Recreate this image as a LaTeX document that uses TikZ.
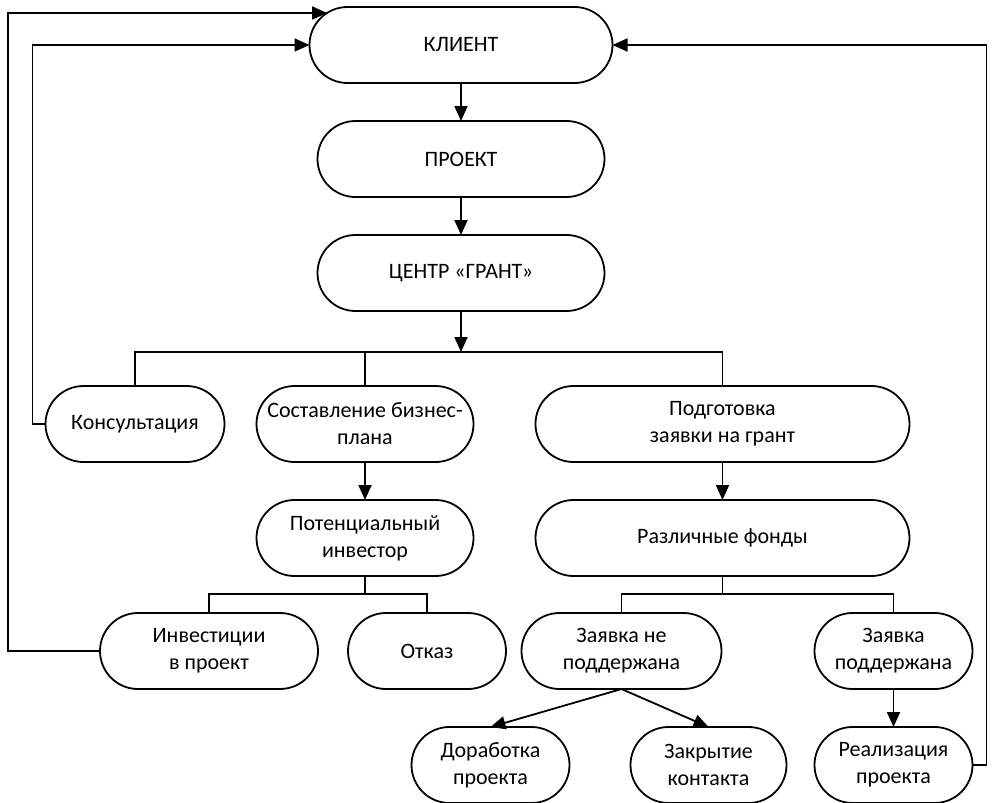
\documentclass[tikz,border=0pt]{standalone}
\usepackage{fontspec}
\setmainfont{Carlito}
\usetikzlibrary{positioning,arrows.meta}

\begin{document}
\begin{tikzpicture}[
        node distance=19pt,
        block/.style={rectangle,rounded corners=19pt,draw=black,line width=0.9pt,minimum height=38pt,inner sep=2pt,outer sep=0pt,align=center,font=\fontsize{11}{13.5}\selectfont},
        arrow/.style={-{Triangle[length=7.5pt,width=6.5pt]},line width=0.9pt},
        link/.style={line width=0.9pt},
      ]
      \useasboundingbox (0,0) rectangle (496pt,-401.5pt);
      \node[block,minimum width=151.5pt] (klient) at (230.5pt,-22.5pt) {КЛИЕНТ};
      \node[block,minimum width=143.5pt,below=of klient] (proekt) {ПРОЕКТ};
      \node[block,minimum width=143.5pt,below=of proekt] (centr) {ЦЕНТР «ГРАНТ»};
      \node[block,minimum width=108.5pt,below=37.5pt of centr,xshift=-48pt] (sostav) {Составление бизнес-\\плана};
      \node[block,minimum width=89.5pt,left=16pt of sostav] (konsult) {Консультация};
      \node[block,minimum width=187pt,right=31pt of sostav] (podgot) {Подготовка\\заявки на грант};
      \node[block,minimum width=108.5pt,below=of sostav] (potenc) {Потенциальный\\инвестор};
      \node[block,minimum width=187pt,below=of podgot] (razl) {Различные фонды};
      \node[block,minimum width=109pt,below=18.5pt of potenc,xshift=-78pt] (invest) {Инвестиции\\в проект};
      \node[block,minimum width=79pt,right=15pt of invest] (otkaz) {Отказ};
      \node[block,minimum width=100pt,below=18.5pt of razl,xshift=-50.5pt] (zayne) {Заявка не\\поддержана};
      \node[block,minimum width=79pt,right=46.5pt of zayne] (zaypod) {Заявка\\поддержана};
      \node[block,minimum width=79pt,below=of zayne,xshift=-65.5pt] (dorab) {Доработка\\проекта};
      \node[block,minimum width=78pt,right=30.5pt of dorab] (zakr) {Закрытие\\контакта};
      \node[block,minimum width=79pt,below=of zaypod] (realiz) {Реализация\\проекта};

      \draw[arrow] (klient) -- (proekt);
      \draw[arrow] (proekt) -- (centr);
      \draw[arrow] (centr.south) -- ++(0,-20.5pt) coordinate (br1);
      \draw[link] (konsult.north) |- (br1) -| (podgot.north);
      \draw[link] (sostav.north) -- (sostav.north |- br1);
      \draw[arrow] (sostav) -- (potenc);
      \draw[link] (potenc.south) -- ++(0,-9pt) coordinate (br2);
      \draw[link] (invest.north) |- (br2) -| (otkaz.north);
      \draw[arrow] (podgot) -- (razl);
      \draw[link] (razl.south) -- ++(0,-9pt) coordinate (br3);
      \draw[link] (zayne.north) |- (br3) -| (zaypod.north);
      \draw[arrow] (zayne.south) -- (dorab.north);
      \draw[arrow] (zayne.south) -- (zakr.north);
      \draw[arrow] (zaypod) -- (realiz);

      % return lines to the client
      \draw[arrow] (realiz.east) -- ++(7pt,0) |- (klient.east);
      \draw[arrow] (konsult.west) -- ++(-6.5pt,0) |- (klient.west);
      \draw[arrow] (invest.west) -- ++(-46pt,0) |- ([xshift=8.8pt,yshift=-3pt]klient.north west);
    \end{tikzpicture}
\end{document}
